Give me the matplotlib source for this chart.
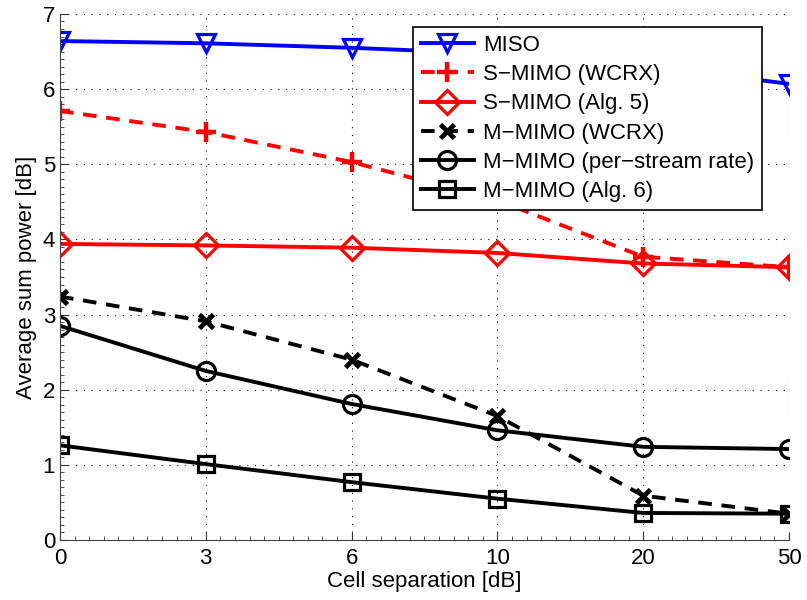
import matplotlib
matplotlib.use("Agg")
import matplotlib.pyplot as plt
from matplotlib.ticker import AutoMinorLocator

plt.rcParams['font.family'] = ['Liberation Sans', 'DejaVu Sans']

# x categories (cell separation in dB), equally spaced
sep_labels = ["0", "3", "6", "10", "20", "50"]

miso = [6.64, 6.61, 6.55, 6.47, 6.32, 6.07]
smimo_wcrx = [5.71, 5.43, 5.03, 4.52, 3.77, 3.63]
smimo_alg5 = [3.94, 3.92, 3.89, 3.82, 3.68, 3.63]
mmimo_wcrx = [3.24, 2.91, 2.40, 1.65, 0.59, 0.35]
mmimo_psr = [2.85, 2.25, 1.81, 1.46, 1.24, 1.21]
mmimo_alg6 = [1.26, 1.01, 0.77, 0.55, 0.36, 0.35]

x = list(range(len(sep_labels)))

fig = plt.figure(figsize=(8.07, 6.0), dpi=100)
ax = fig.add_axes([0.0743, 0.1, 0.9034, 0.8767])

lw = 2.8
ms = 13
mew = 2.3
dash = (3.5, 2.5)
ax.plot(x, miso, color="blue", lw=lw, marker="v", ms=ms, mew=mew, fillstyle="none", label="MISO")
ax.plot(x, smimo_wcrx, color="red", lw=lw, ls="--", dashes=dash, marker="+", ms=ms + 2, mew=3.2, label="S\u2212MIMO (WCRX)")
ax.plot(x, smimo_alg5, color="red", lw=lw, marker="D", ms=ms - 1, mew=mew, fillstyle="none", label="S\u2212MIMO (Alg. 5)")
ax.plot(x, mmimo_wcrx, color="black", lw=lw, ls="--", dashes=dash, marker="x", ms=ms - 3, mew=3.4, label="M\u2212MIMO (WCRX)")
ax.plot(x, mmimo_psr, color="black", lw=lw, marker="o", ms=ms, mew=mew, fillstyle="none", label="M\u2212MIMO (per\u2212stream rate)")
ax.plot(x, mmimo_alg6, color="black", lw=lw, marker="s", ms=ms - 2, mew=mew, fillstyle="none", label="M\u2212MIMO (Alg. 6)")

ax.set_xlim(0, 5)
ax.set_ylim(0, 7)
ax.set_xticks(x)
ax.set_xticklabels(sep_labels)
ax.set_yticks(range(8))
ax.xaxis.set_minor_locator(AutoMinorLocator(10))
ax.yaxis.set_minor_locator(AutoMinorLocator(10))
ax.tick_params(which="both", direction="in", labelsize=16, colors="#333333", labelcolor="black")
ax.tick_params(which="major", length=6)
ax.tick_params(which="minor", length=3)
ax.tick_params(axis="x", pad=6)

for s in ["top", "right"]:
    ax.spines[s].set_visible(False)
for s in ["left", "bottom"]:
    ax.spines[s].set_color("#444444")

ax.grid(True, which="major", color="black", ls=(0, (1, 6)), lw=0.8)

ax.set_xlabel("Cell separation [dB]", fontsize=16, labelpad=1)
ax.set_ylabel("Average sum power [dB]", fontsize=16, labelpad=4)

leg = ax.legend(loc="upper left", bbox_to_anchor=(0.484, 0.975), fontsize=16, handlelength=2.4,
                fancybox=False, edgecolor="black", framealpha=1, borderpad=0.35, labelspacing=0.37,
                handletextpad=0.4, borderaxespad=0)
leg.get_frame().set_linewidth(1.2)

fig.savefig("out.png", dpi=100)
